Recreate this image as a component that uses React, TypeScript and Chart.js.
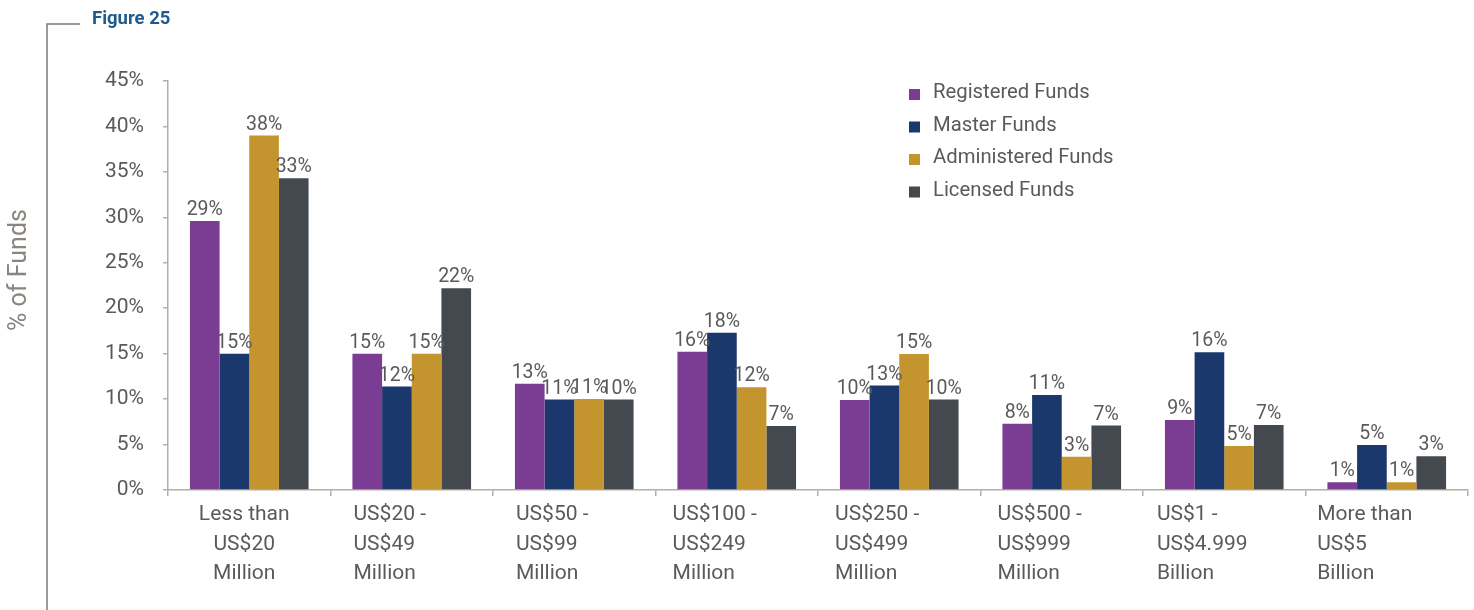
import React, { useEffect, useRef } from "react";
import { Chart, registerables } from "chart.js";

Chart.register(...registerables);

const categories: string[][] = [
  ["Less than", "US$20", "Million"],
  ["US$20 -", "US$49", "Million"],
  ["US$50 -", "US$99", "Million"],
  ["US$100 -", "US$249", "Million"],
  ["US$250 -", "US$499", "Million"],
  ["US$500 -", "US$999", "Million"],
  ["US$1 -", "US$4.999", "Billion"],
  ["More than", "US$5", "Billion"],
];

const seriesNames = ["Registered Funds", "Master Funds", "Administered Funds", "Licensed Funds"];

const registered = [29.6, 15.0, 11.7, 15.2, 9.9, 7.3, 7.7, 0.85];
const master = [15.0, 11.4, 9.95, 17.3, 11.5, 10.45, 15.15, 4.95];
const administered = [39.0, 15.0, 10.0, 11.3, 14.95, 3.65, 4.85, 0.85];
const licensed = [34.3, 22.2, 9.95, 7.05, 9.95, 7.1, 7.15, 3.7];

const registeredLabels = ["29%", "15%", "13%", "16%", "10%", "8%", "9%", "1%"];
const masterLabels = ["15%", "12%", "11%", "18%", "13%", "11%", "16%", "5%"];
const administeredLabels = ["38%", "15%", "11%", "12%", "15%", "3%", "5%", "1%"];
const licensedLabels = ["33%", "22%", "10%", "7%", "10%", "7%", "7%", "3%"];

const yTicks = [0, 5, 10, 15, 20, 25, 30, 35, 40, 45];

const colors = ["#7b3c94", "#1b386c", "#c4952e", "#44484f"];
const FONT = "Roboto, 'Liberation Sans', Arial, sans-serif";
const TEXT = "#5a5a5a";
const AXIS = "#b3aea6";

const valueLabels = [registeredLabels, masterLabels, administeredLabels, licensedLabels];

const decorPlugin = {
  id: "decor",
  afterDraw(chart: any) {
    const ctx = chart.ctx as CanvasRenderingContext2D;
    const area = chart.chartArea;
    ctx.save();
    // bracket
    ctx.strokeStyle = "#7a7a7a";
    ctx.lineWidth = 1.5;
    ctx.beginPath();
    ctx.moveTo(80, 24);
    ctx.lineTo(47, 24);
    ctx.lineTo(47, chart.height);
    ctx.stroke();
    // figure title
    ctx.fillStyle = "#1e5a8e";
    ctx.font = `bold 18.5px ${FONT}`;
    ctx.textAlign = "left";
    ctx.textBaseline = "middle";
    ctx.fillText("Figure 25", 92, 19);
    // y title
    ctx.save();
    ctx.translate(20, 270);
    ctx.rotate(-Math.PI / 2);
    ctx.fillStyle = "#8a857d";
    ctx.font = `25px ${FONT}`;
    ctx.textAlign = "center";
    ctx.textBaseline = "middle";
    ctx.fillText("% of Funds", 0, 0);
    ctx.restore();

    // value labels
    ctx.fillStyle = TEXT;
    ctx.font = `19.5px ${FONT}`;
    ctx.textAlign = "center";
    ctx.textBaseline = "bottom";
    chart.data.datasets.forEach((ds: any, di: number) => {
      const meta = chart.getDatasetMeta(di);
      meta.data.forEach((el: any, i: number) => {
        ctx.fillText(valueLabels[di][i], el.x, el.y - 1);
      });
    });

    // x labels
    const xs = chart.scales.x;
    ctx.font = `21px ${FONT}`;
    ctx.textBaseline = "middle";
    categories.forEach((lines, i) => {
      const cx = xs.getPixelForValue(i);
      const maxW = Math.max(...lines.map((l) => ctx.measureText(l).width));
      lines.forEach((line, k) => {
        const y = area.bottom + 25 + k * 29.5;
        if (i === 0) {
          ctx.textAlign = "center";
          ctx.fillText(line, cx - 5, y);
        } else {
          ctx.textAlign = "left";
          ctx.fillText(line, cx - maxW / 2 - 22, y);
        }
      });
    });

    // legend
    const lx = area.left + (area.right - area.left) * 0.57;
    const ly = area.top + 12;
    ctx.font = `20.3px ${FONT}`;
    ctx.textAlign = "left";
    ctx.textBaseline = "middle";
    chart.data.datasets.forEach((ds: any, di: number) => {
      const y = ly + di * 32.5;
      ctx.fillStyle = ds.backgroundColor;
      ctx.fillRect(lx, y - 4, 11, 11);
      ctx.fillStyle = TEXT;
      ctx.fillText(ds.label, lx + 24, y);
    });
    ctx.restore();
  },
};

export default function App() {
  const ref = useRef<HTMLCanvasElement | null>(null);
  useEffect(() => {
    if (!ref.current) return;
    const seriesData = [registered, master, administered, licensed];
    const chart = new Chart(ref.current, {
      type: "bar",
      data: {
        labels: categories.map((c) => c.join(" ")),
        datasets: seriesNames.map((name, i) => ({
          label: name,
          data: seriesData[i],
          backgroundColor: colors[i],
          borderWidth: 0,
          categoryPercentage: 0.73,
          barPercentage: 1.0,
        })),
      },
      options: {
        responsive: false,
        animation: false,
        layout: { padding: { left: 60, right: 6, top: 81, bottom: 0 } },
        plugins: { legend: { display: false }, tooltip: { enabled: false } },
        scales: {
          x: {
            offset: true,
            grid: { offset: true, drawOnChartArea: false, drawTicks: true, tickLength: 6, color: AXIS, lineWidth: 1.5 },
            border: { color: AXIS, width: 1.5 },
            ticks: { display: false },
            afterFit: (s: any) => {
              s.height = 120;
            },
          },
          y: {
            min: 0,
            max: 45,
            afterBuildTicks: (s: any) => {
              s.ticks = yTicks.map((v) => ({ value: v }));
            },
            ticks: {
              callback: (v: any) => `${v}%`,
              font: { family: FONT, size: 21 },
              color: TEXT,
              padding: 19,
            },
            grid: { drawOnChartArea: false, drawTicks: true, tickLength: 5, color: AXIS, lineWidth: 1.5 },
            border: { color: AXIS, width: 1.5 },
            afterFit: (s: any) => {
              s.width = 108;
            },
          },
        },
      },
      plugins: [decorPlugin],
    });
    return () => chart.destroy();
  }, []);
  return (
    <div style={{ position: "absolute", left: 0, top: 0, width: 1474, height: 610, background: "#fff" }}>
      <canvas ref={ref} width={1474} height={610} style={{ display: "block" }} />
    </div>
  );
}
